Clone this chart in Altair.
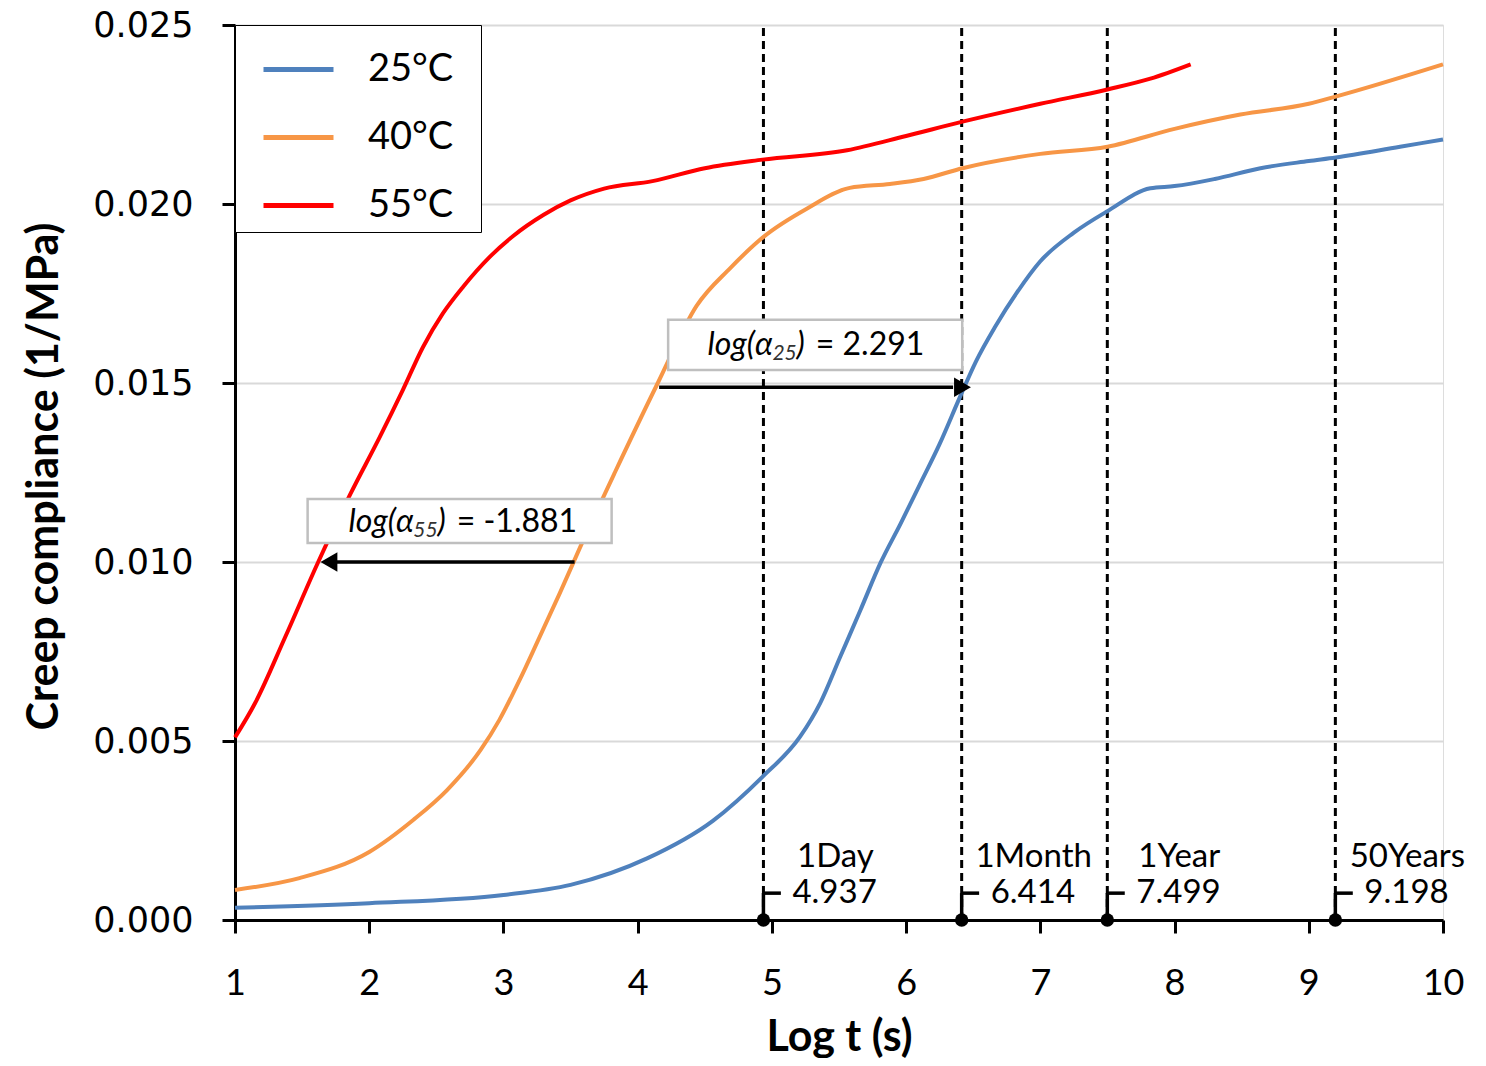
import altair as alt
import pandas as pd

# ---- data ----
x25 = [1.0, 2.0, 3.0, 3.5, 4.07, 4.56, 4.93, 5.21, 5.36, 5.51, 5.66, 5.81, 5.96, 6.10, 6.25, 6.40, 6.52, 6.66, 6.83, 7.0, 7.25, 7.5, 7.82, 8.0, 8.3, 8.64, 9.0, 9.2, 9.68, 10.0]
y25 = [0.00034, 0.00047, 0.0007, 0.00098, 0.00172, 0.00277, 0.0040, 0.00512, 0.00606, 0.00736, 0.00866, 0.00998, 0.01108, 0.01215, 0.01330, 0.01460, 0.0156, 0.01655, 0.01755, 0.0184, 0.0192, 0.0198, 0.02044, 0.0205, 0.0207, 0.0210, 0.0212, 0.0213, 0.0216, 0.0218]

x40 = [1.0, 1.48, 2.0, 2.33, 2.58, 2.83, 2.97, 3.12, 3.27, 3.42, 3.57, 3.83, 4.15, 4.44, 4.69, 4.94, 5.26, 5.58, 5.88, 6.13, 6.42, 7.0, 7.5, 8.0, 8.49, 9.0, 9.2, 10.0]
y40 = [0.00084, 0.00117, 0.0019, 0.0028, 0.00363, 0.00475, 0.00559, 0.0067, 0.00791, 0.00913, 0.0104, 0.0125, 0.0150, 0.01716, 0.01821, 0.01909, 0.01987, 0.02045, 0.02056, 0.0207, 0.0210, 0.0214, 0.0216, 0.0221, 0.0225, 0.0228, 0.0230, 0.0239]

x55 = [1.0, 1.15, 1.37, 1.62, 1.86, 2.08, 2.25, 2.40, 2.55, 2.70, 2.90, 3.07, 3.3, 3.5, 3.75, 4.11, 4.5, 4.93, 5.56, 6.0, 6.42, 7.0, 7.5, 7.82, 8.12]
y55 = [0.0051, 0.00606, 0.00787, 0.0100, 0.0119, 0.0135, 0.0148, 0.0160, 0.01695, 0.01769, 0.01853, 0.0191, 0.0197, 0.0201, 0.02043, 0.02064, 0.0210, 0.02124, 0.0215, 0.0219, 0.0223, 0.0228, 0.0232, 0.0235, 0.0239]

series_names = ["25°C", "40°C", "55°C"]
series_colors = ["#4F81BD", "#F79646", "#FF0000"]

mark_x = [4.937, 6.414, 7.499, 9.198]
mark_names = ["1Day", "1Month", "1Year", "50Years"]
mark_labels = ["4.937", "6.414", "7.499", "9.198"]

# shift annotations
arrow_from = [4.16, 3.53]
arrow_to = [6.35, 1.75]
arrow_y = [0.01488, 0.0100]
arrow_head_x = [6.42, 1.70]
arrow_head_shape = ["triangle-right", "triangle-left"]
box_x1 = [4.227, 1.541]
box_x2 = [6.418, 3.806]
box_y1 = [0.01536, 0.01053]
box_y2 = [0.01677, 0.01176]
box_text_y = [0.01605, 0.01112]
box_func = ["log(α", "log(α"]
box_sub = ["25", "55"]
box_value = ["= 2.291", "= -1.881"]
box_paren_x = [5.245, 2.57]

FONT = "Lato"

# ---- tables ----
rows = []
for name, xs, ys in zip(series_names, [x25, x40, x55], [y25, y40, y55]):
    for a, b in zip(xs, ys):
        rows.append({"t": a, "J": b, "Temperature": name})
curves = pd.DataFrame(rows)

marks = pd.DataFrame({"x": mark_x, "name": mark_names, "label": mark_labels})
marks["x_end"] = marks["x"] + 0.13
marks["y0"] = 0.0
marks["ytop"] = 0.025
marks["ystub"] = 0.00075
marks["yname"] = 0.00177

arrows = pd.DataFrame({"x1": arrow_from, "x2": arrow_to, "y": arrow_y,
                       "hx": arrow_head_x, "shape": arrow_head_shape})
boxes = pd.DataFrame({"x1": box_x1, "x2": box_x2, "y1": box_y1, "y2": box_y2,
                      "ty": box_text_y, "fn": box_func, "sub": box_sub,
                      "val": box_value, "px": box_paren_x})
boxes["paren"] = ")"

xscale = alt.Scale(domain=[1, 10], nice=False, zero=False)
yscale = alt.Scale(domain=[0, 0.025], nice=False)

xaxis = alt.Axis(values=list(range(1, 11)), format="d", title="Log t (s)",
                 grid=False, labelFontSize=36, labelFont=FONT, labelPadding=33,
                 labelFlush=False, labelOverlap=False,
                 tickSize=13, tickWidth=3, tickColor="black",
                 domainColor="black", domainWidth=3, labelColor="black",
                 titleFont=FONT, titleFontSize=43, titleFontWeight="bold",
                 titleColor="black", titleY=130, titleBaseline="alphabetic")
yaxis = alt.Axis(values=[0, 0.005, 0.01, 0.015, 0.02, 0.025], format=".3f",
                 title="Creep compliance (1/MPa)", grid=True, gridColor="#D9D9D9",
                 gridWidth=2, labelFontSize=35, labelFont="DejaVu Sans",
                 labelPadding=29, labelFlush=False, labelOverlap=False,
                 tickSize=13, tickWidth=3, tickColor="black",
                 domainColor="black", domainWidth=3, labelColor="black",
                 titleFont=FONT, titleFontSize=43, titleFontWeight="bold",
                 titleColor="black", titleX=-191, titleY=451,
                 titleAngle=270, titleBaseline="middle", titleAlign="center")

lines = alt.Chart(curves).mark_line(strokeWidth=4, interpolate="monotone").encode(
    x=alt.X("t:Q", scale=xscale, axis=xaxis),
    y=alt.Y("J:Q", scale=yscale, axis=yaxis),
    color=alt.Color("Temperature:N",
                    scale=alt.Scale(domain=series_names, range=series_colors),
                    legend=alt.Legend(title=".", titleOrient="right", titleOpacity=0,
                                      titleFontSize=10, titlePadding=18,
                                      orient="top-left", offset=0,
                                      symbolType="stroke", symbolSize=4900,
                                      symbolStrokeWidth=5, symbolOffset=19,
                                      labelFontSize=38, labelFont=FONT,
                                      labelColor="black", labelOffset=32,
                                      rowPadding=11, padding=7,
                                      strokeColor="black",
                                      fillColor="white", cornerRadius=0)),
    order="t:Q",
)

vrules = alt.Chart(marks).mark_rule(color="black", strokeWidth=3, strokeDash=[8, 5]).encode(
    x="x:Q", y="y0:Q", y2="ytop:Q")
stems = alt.Chart(marks).mark_rule(color="black", strokeWidth=3.5).encode(
    x="x:Q", y="y0:Q", y2="ystub:Q")
stubs = alt.Chart(marks).mark_rule(color="black", strokeWidth=3.5).encode(
    x="x:Q", x2="x_end:Q", y="ystub:Q")
dots = alt.Chart(marks).mark_point(filled=True, color="black", size=180, opacity=1).encode(
    x="x:Q", y="y0:Q")
vals = alt.Chart(marks).mark_text(align="left", baseline="middle", dx=29,
                                  fontSize=33, font=FONT, color="black").encode(
    x="x:Q", y="ystub:Q", text="label:N")
names = alt.Chart(marks).mark_text(align="center", baseline="middle", dx=72,
                                   fontSize=33, font=FONT, color="black").encode(
    x="x:Q", y="yname:Q", text="name:N")

arrow_lines = alt.Chart(arrows).mark_rule(color="black", strokeWidth=3.5).encode(
    x="x1:Q", x2="x2:Q", y="y:Q")
arrow_heads = alt.Chart(arrows).mark_point(filled=True, color="black", size=380, opacity=1).encode(
    x="hx:Q", y="y:Q", shape=alt.Shape("shape:N", scale=None))

box_rects = alt.Chart(boxes).mark_rect(fill="white", stroke="#BFBFBF", strokeWidth=2.5).encode(
    x="x1:Q", x2="x2:Q", y="y1:Q", y2="y2:Q")
box_paren = alt.Chart(boxes).mark_text(align="right", baseline="middle", fontSize=32,
                                       font=FONT, fontStyle="italic", color="black").encode(
    x="px:Q", y="ty:Q", text="paren:N")
box_sub_t = alt.Chart(boxes).mark_text(align="right", baseline="middle", fontSize=21, dx=-8, dy=9,
                                       font=FONT, fontStyle="italic", color="#333333").encode(
    x="px:Q", y="ty:Q", text="sub:N")
box_fn = alt.Chart(boxes).mark_text(align="right", baseline="middle", fontSize=32, dx=-32,
                                    font=FONT, fontStyle="italic", color="black").encode(
    x="px:Q", y="ty:Q", text="fn:N")
box_val = alt.Chart(boxes).mark_text(align="left", baseline="middle", fontSize=32, dx=11,
                                     font=FONT, color="black").encode(
    x="px:Q", y="ty:Q", text="val:N")

chart = alt.layer(
    vrules, stems, stubs, dots, vals, names, lines, arrow_lines, arrow_heads,
    box_rects, box_paren, box_sub_t, box_fn, box_val
).properties(
    width=1208, height=895,
    autosize=alt.AutoSizeParams(type="none"),
    padding={"left": 227, "top": 17, "right": 35, "bottom": 138},
).configure_view(stroke=None).configure_legend(strokeWidth=2).configure(background="white")

chart.save("out.html", embed_options={"renderer": "svg", "actions": False})
